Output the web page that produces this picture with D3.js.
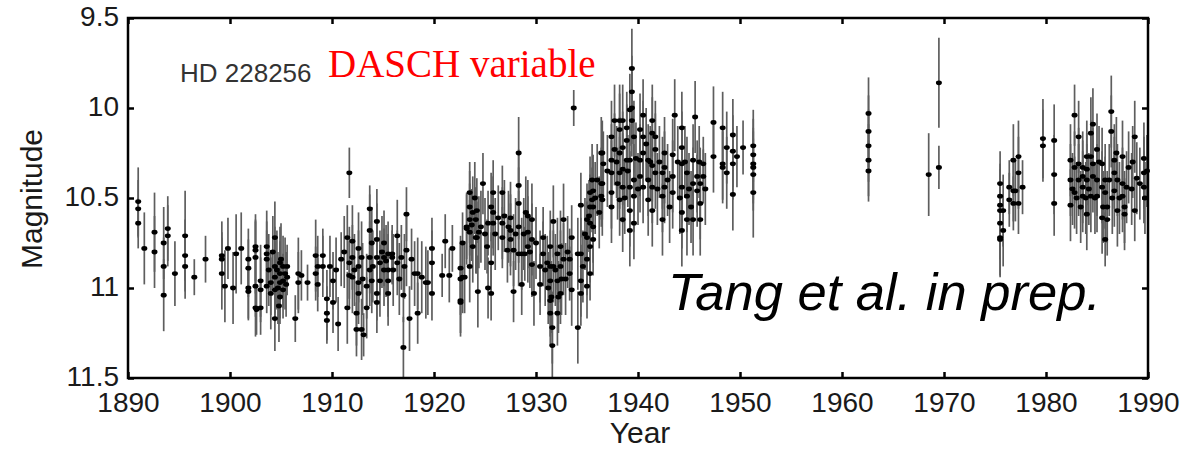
<!DOCTYPE html>
<html><head><meta charset="utf-8">
<script src="https://cdn.jsdelivr.net/npm/d3@7"></script>
<style>html,body{margin:0;padding:0;background:#fff;}svg{display:block;}</style>
</head><body>
<svg id="chart" width="1192" height="455"></svg>
<script>
// [year, magnitude, half error]
const obs1890s = [[1891.0,10.52,0.19],[1891.0,10.56,0.16],[1891.0,10.64,0.14],[1891.6,10.78,0.2],
[1892.6,10.69,0.22],[1892.6,10.80,0.2],[1893.5,10.75,0.2],[1893.5,10.88,0.16],[1893.5,11.04,0.2],[1893.9,10.67,0.18],[1893.9,10.71,0.17],
[1894.6,10.92,0.18],[1895.6,10.71,0.25],[1895.6,10.82,0.2],[1895.6,10.88,0.18],[1896.5,10.94,0.1],[1897.6,10.84,0.13],
[1899.2,10.82,0.19],[1899.2,10.84,0.15],[1899.2,10.92,0.2],[1899.5,10.99,0.2],[1899.8,10.78,0.17]];
const obs1900s = [[1900.3,11.0,0.2],[1900.6,10.81,0.22],[1901.1,10.78,0.2],
[1901.8,10.84,0.17],[1901.8,10.89,0.16],[1901.8,11.0,0.18],[1901.8,11.02,0.15],
[1902.5,10.77,0.18],[1902.5,10.79,0.17],[1902.5,10.83,0.2],[1902.5,10.99,0.17],[1902.5,11.11,0.16],[1902.6,11.12,0.14],
[1903.0,10.96,0.2],[1903.0,11.01,0.18],[1903.0,11.11,0.15],
[1903.6,10.77,0.2],[1903.6,10.81,0.18],[1903.6,10.84,0.16],[1903.6,10.99,0.15],[1903.8,10.9,0.2],
[1904.0,10.97,0.18],[1904.0,11.03,0.2],[1904.2,10.8,0.2],
[1904.4,10.72,0.2],[1904.4,10.88,0.22],[1904.4,10.94,0.2],[1904.4,11.01,0.18],[1904.4,11.17,0.18],
[1904.6,10.9,0.22],[1904.7,11.0,0.2],[1904.8,11.1,0.2],
[1904.9,10.86,0.2],[1904.9,10.92,0.18],[1904.9,10.97,0.2],[1904.9,11.05,0.15],[1905.0,10.84,0.2],
[1905.2,10.88,0.17],[1905.2,10.96,0.15],[1905.2,11.01,0.16],[1905.4,10.92,0.2],[1905.5,10.98,0.18],[1905.6,10.88,0.12],[1905.6,10.94,0.1],
[1906.4,11.17,0.13],[1906.7,10.92,0.2],[1906.7,10.97,0.17],[1907.0,10.93,0.14],[1907.6,10.97,0.1],
[1908.4,10.82,0.2],[1908.4,10.92,0.15],[1908.6,10.88,0.17],[1908.6,10.98,0.15],
[1909.1,10.82,0.15],[1909.1,10.88,0.17],[1909.5,11.06,0.16],[1909.5,11.14,0.15],[1909.5,11.18,0.13],[1909.8,10.88,0.17]];
const obs1910s = [[1910.1,10.96,0.16],[1910.1,11.08,0.17],[1910.4,10.9,0.18],[1910.6,11.2,0.15],[1910.9,10.84,0.15],
[1911.2,10.8,0.2],[1911.5,10.72,0.18],[1911.5,11.11,0.2],[1911.7,10.36,0.14],[1911.7,10.86,0.2],[1911.7,10.93,0.19],
[1912.0,10.74,0.2],[1912.0,10.83,0.18],[1912.0,10.94,0.2],[1912.2,10.9,0.2],[1912.4,11.14,0.18],[1912.4,11.23,0.15],
[1912.6,10.78,0.2],[1912.6,10.88,0.2],[1912.6,10.97,0.18],[1912.6,11.03,0.17],[1912.9,10.83,0.2],[1912.9,11.23,0.17],
[1913.0,10.95,0.2],[1913.1,11.26,0.12],[1913.4,10.99,0.18],[1913.4,11.11,0.17],
[1913.7,10.56,0.13],[1913.7,10.68,0.2],[1913.7,10.83,0.2],[1913.7,10.9,0.2],[1913.9,10.75,0.2],[1913.9,10.96,0.18],[1914.0,10.88,0.2],
[1914.4,10.63,0.18],[1914.4,10.73,0.2],[1914.4,10.83,0.2],[1914.4,11.03,0.15],[1914.4,11.08,0.17],
[1914.7,10.86,0.18],[1914.7,10.96,0.2],[1914.9,10.8,0.2],[1915.1,10.75,0.18],[1915.1,10.83,0.16],[1915.1,10.9,0.2],[1915.3,10.85,0.2],
[1915.5,10.81,0.18],[1915.5,10.9,0.2],[1915.5,10.96,0.2],[1915.5,11.03,0.18],[1915.9,10.81,0.16],[1915.9,10.83,0.15],[1916.0,10.9,0.2],
[1916.4,10.71,0.2],[1916.4,10.86,0.18],[1916.6,10.95,0.2],[1916.8,10.83,0.18],[1917.0,11.04,0.15],[1917.0,11.33,0.17],[1917.1,10.88,0.18],
[1917.3,10.59,0.15],[1917.3,10.79,0.2],[1917.6,11.17,0.18],[1917.8,10.84,0.17],[1918.1,10.92,0.18],
[1918.4,10.92,0.2],[1918.4,11.14,0.17],[1918.8,10.94,0.2],[1919.2,10.97,0.2],[1919.4,10.97,0.18],
[1919.8,10.78,0.17],[1919.8,10.86,0.18],[1919.8,11.03,0.15]];
const obs1920s = [[1920.8,10.93,0.12],[1921.1,10.74,0.15],[1921.5,10.93,0.15],[1921.8,10.78,0.13],
[1922.6,10.89,0.18],[1922.6,10.95,0.2],[1922.6,11.07,0.2],[1922.6,11.08,0.17],[1922.8,10.75,0.17],[1922.8,10.94,0.2],
[1923.0,10.94,0.2],[1923.2,10.66,0.18],[1923.2,10.67,0.2],
[1923.5,10.47,0.17],[1923.5,10.55,0.2],[1923.5,10.62,0.2],[1923.5,10.69,0.18],[1923.5,10.88,0.2],[1923.7,10.65,0.2],
[1923.8,10.58,0.2],[1923.8,10.77,0.2],[1924.0,10.5,0.2],[1924.1,10.62,0.18],[1924.1,10.72,0.2],[1924.2,10.57,0.18],[1924.2,10.72,0.2],
[1924.3,11.02,0.2],[1924.4,10.69,0.2],[1924.6,10.66,0.2],[1924.8,10.42,0.17],[1925.0,10.7,0.2],[1925.2,10.77,0.15],[1925.3,10.64,0.18],[1925.3,11.0,0.17],
[1925.6,10.55,0.19],[1925.6,10.86,0.17],[1925.6,11.03,0.15],[1925.8,10.47,0.18],[1925.8,10.58,0.2],[1925.8,10.64,0.18],
[1926.0,10.7,0.2],[1926.3,10.61,0.18],[1926.7,10.47,0.15],[1926.7,10.64,0.2],[1926.7,10.72,0.17],[1926.9,10.6,0.2],[1927.2,10.79,0.18],
[1927.3,10.66,0.2],[1927.5,10.61,0.2],[1927.5,10.68,0.2],[1927.5,10.73,0.2],[1927.8,11.02,0.17],[1927.8,10.79,0.2],[1928.0,10.7,0.2],
[1928.3,10.25,0.2],[1928.3,10.43,0.2],[1928.3,10.53,0.2],[1928.3,10.66,0.2],[1928.3,10.81,0.18],
[1928.6,10.81,0.2],[1928.6,10.98,0.17],[1928.8,10.7,0.2],[1928.9,10.81,0.15],[1929.0,10.58,0.2],
[1929.2,10.6,0.2],[1929.2,10.69,0.2],[1929.2,10.77,0.2],[1929.4,10.8,0.2],[1929.6,10.62,0.2],[1929.6,10.73,0.2],[1929.6,10.87,0.18],[1929.8,11.03,0.18]];
const obs1930s = [[1930.0,10.75,0.2],[1930.4,10.98,0.17],[1930.4,10.88,0.2],[1930.7,10.72,0.17],[1930.7,10.81,0.18],[1930.9,10.9,0.2],[1931.1,10.86,0.15],
[1931.2,11.0,0.2],[1931.4,10.77,0.2],[1931.4,10.88,0.2],[1931.4,10.96,0.2],[1931.4,11.07,0.2],[1931.4,11.14,0.18],[1931.5,11.05,0.2],
[1931.6,11.22,0.2],[1931.6,11.32,0.18],[1931.7,10.63,0.2],[1931.7,10.88,0.2],[1931.9,10.9,0.2],
[1932.1,10.81,0.2],[1932.1,10.96,0.2],[1932.1,11.14,0.18],[1932.2,11.05,0.2],[1932.4,10.77,0.2],[1932.4,10.88,0.2],[1932.4,11.03,0.17],[1932.5,10.95,0.2],
[1932.7,10.62,0.2],[1932.7,10.84,0.2],[1932.9,10.95,0.2],[1933.1,10.8,0.2],[1933.3,10.84,0.17],[1933.3,10.92,0.15],[1933.5,10.72,0.18],[1933.5,11.01,0.2],
[1933.7,10.0,0.1],[1934.1,11.22,0.2],[1934.1,10.81,0.2],
[1934.4,10.54,0.18],[1934.4,10.81,0.2],[1934.4,10.96,0.2],[1934.4,11.03,0.18],[1934.6,10.88,0.2],[1934.8,10.7,0.2],
[1935.0,10.62,0.2],[1935.0,10.72,0.2],[1935.0,10.84,0.2],[1935.0,10.99,0.18],[1935.2,10.6,0.2],
[1935.3,10.47,0.2],[1935.3,10.55,0.18],[1935.3,10.64,0.2],[1935.3,10.77,0.2],[1935.3,10.92,0.15],
[1935.5,10.4,0.2],[1935.5,10.51,0.18],[1935.6,10.46,0.2],[1935.6,10.55,0.18],[1935.6,10.66,0.2],[1935.6,10.73,0.2],[1935.8,10.5,0.2],
[1936.0,10.4,0.2],[1936.2,10.58,0.2],
[1936.4,10.25,0.2],[1936.4,10.42,0.2],[1936.4,10.49,0.17],[1936.5,10.25,0.18],[1936.5,10.42,0.2],[1936.5,10.51,0.2],[1936.6,10.31,0.18],
[1937.0,10.35,0.2],[1937.4,10.16,0.2],[1937.4,10.29,0.2],[1937.4,10.36,0.18],[1937.4,10.47,0.2],[1937.4,10.55,0.2],[1937.7,10.07,0.2],[1937.7,10.23,0.2],
[1937.9,10.3,0.2],[1938.0,10.42,0.2],
[1938.2,10.07,0.2],[1938.2,10.12,0.2],[1938.2,10.25,0.2],[1938.2,10.36,0.2],[1938.2,10.51,0.2],
[1938.5,10.07,0.2],[1938.5,10.22,0.2],[1938.5,10.34,0.2],[1938.5,10.44,0.2],[1938.5,10.62,0.18],[1938.7,10.5,0.2],
[1938.9,10.11,0.2],[1938.9,10.18,0.2],[1938.9,10.29,0.2],[1939.0,10.35,0.2],
[1939.2,10.01,0.2],[1939.2,10.29,0.2],[1939.2,10.44,0.2],[1939.2,10.57,0.2],[1939.2,10.68,0.2],
[1939.4,9.78,0.22],[1939.4,9.91,0.2],[1939.4,10.0,0.2],[1939.4,10.07,0.2],
[1939.6,10.16,0.2],[1939.6,10.4,0.2],[1939.6,10.49,0.2],[1939.6,10.64,0.2],[1939.8,10.28,0.2]];
const obs1940s = [[1940.0,10.45,0.2],[1940.2,10.12,0.2],[1940.2,10.29,0.2],[1940.2,10.38,0.2],
[1940.5,10.04,0.2],[1940.5,10.16,0.2],[1940.5,10.25,0.2],[1940.5,10.44,0.2],[1940.8,10.2,0.2],[1941.0,10.29,0.2],[1941.0,10.4,0.2],[1941.0,10.51,0.2],
[1941.2,10.3,0.2],[1941.4,10.07,0.2],[1941.4,10.14,0.2],[1941.4,10.32,0.2],[1941.4,10.44,0.2],[1941.4,10.57,0.2],
[1941.7,10.16,0.2],[1941.7,10.23,0.2],[1941.7,10.36,0.2],[1941.9,10.45,0.2],[1942.1,10.3,0.2],[1942.4,10.36,0.2],[1942.4,10.49,0.2],[1942.4,10.62,0.2],
[1942.6,10.25,0.2],[1942.6,10.33,0.2],[1942.6,10.44,0.2],[1942.9,10.4,0.2],[1943.1,10.55,0.2],[1943.4,10.26,0.2],[1943.4,10.38,0.2],[1943.4,10.47,0.2],[1943.6,10.04,0.2],
[1943.9,10.3,0.2],[1944.1,10.5,0.2],
[1944.3,10.11,0.2],[1944.3,10.22,0.2],[1944.3,10.31,0.2],[1944.3,10.44,0.2],[1944.3,10.58,0.2],[1944.3,10.68,0.2],[1944.6,10.3,0.2],
[1944.8,10.36,0.2],[1944.8,10.49,0.2],[1944.8,10.62,0.2],[1945.0,10.45,0.2],[1945.2,10.55,0.2],[1945.4,10.29,0.2],[1945.4,10.42,0.2],[1945.4,10.62,0.2],
[1945.6,10.05,0.2],[1945.8,10.38,0.2],[1945.8,10.46,0.2],[1946.0,10.3,0.2],[1946.1,10.42,0.2],[1946.1,10.53,0.2],[1946.1,10.62,0.2],
[1946.4,10.31,0.15],[1946.4,10.38,0.15],[1946.6,10.45,0.2],[1947.4,10.08,0.2],[1947.4,10.27,0.2],
[1948.3,10.11,0.2],[1948.3,10.31,0.2],[1948.3,10.33,0.2],[1948.7,10.22,0.2],[1948.7,10.36,0.2],
[1949.3,10.15,0.2],[1949.3,10.24,0.2],[1949.3,10.31,0.2],[1949.3,10.48,0.2],[1949.7,10.27,0.17],[1950.3,10.22,0.15],
[1951.3,10.21,0.2],[1951.3,10.26,0.2],[1951.3,10.31,0.2],[1951.3,10.33,0.2],[1951.3,10.37,0.2],[1951.3,10.47,0.25]];
const obs1960s = [[1962.6,10.03,0.2],[1962.6,10.13,0.2],[1962.6,10.21,0.2],[1962.6,10.29,0.2],[1962.6,10.35,0.17],
[1968.5,10.37,0.23],[1969.5,9.86,0.25],[1969.5,10.33,0.12]];
const obs1970s = [[1975.5,10.42,0.18],[1975.5,10.49,0.18],[1975.5,10.54,0.2],[1975.5,10.57,0.2],[1975.5,10.64,0.2],[1975.5,10.72,0.22],[1975.5,10.73,0.2],
[1975.8,10.57,0.2],[1975.8,10.68,0.2],[1976.4,10.44,0.15],[1976.4,10.51,0.15],
[1976.8,10.29,0.2],[1976.8,10.46,0.17],[1976.8,10.53,0.15],[1977.0,10.46,0.17],
[1977.3,10.27,0.2],[1977.3,10.36,0.2],[1977.3,10.53,0.17],[1977.7,10.44,0.15],[1979.7,10.17,0.22],[1979.7,10.21,0.2]];
const obs1980s = [[1980.8,10.18,0.2],[1980.8,10.37,0.22],[1980.8,10.53,0.18],
[1982.4,10.4,0.2],[1982.4,10.54,0.2],[1982.4,10.29,0.2],[1982.6,10.45,0.2],[1982.8,10.04,0.17],[1982.8,10.33,0.2],[1982.8,10.47,0.2],[1983.0,10.5,0.2],
[1983.2,10.16,0.2],[1983.2,10.31,0.2],[1983.2,10.4,0.2],[1983.4,10.55,0.2],[1983.6,10.33,0.2],[1983.6,10.38,0.2],[1983.6,10.44,0.2],[1983.6,10.49,0.2],[1983.9,10.5,0.2],
[1984.0,10.27,0.2],[1984.0,10.34,0.2],[1984.0,10.4,0.2],[1984.0,10.59,0.2],[1984.2,10.45,0.2],[1984.4,10.14,0.2],[1984.4,10.27,0.2],[1984.4,10.49,0.2],
[1984.6,10.09,0.2],[1984.6,10.31,0.2],[1984.6,10.38,0.2],[1984.8,10.5,0.2],[1985.0,10.23,0.2],[1985.0,10.4,0.2],[1985.0,10.49,0.2],[1985.2,10.3,0.2],
[1985.5,10.31,0.2],[1985.5,10.44,0.2],[1985.5,10.61,0.2],[1985.6,10.55,0.2],[1985.8,10.73,0.15],[1985.8,10.4,0.2],[1985.8,10.47,0.2],
[1986.0,10.55,0.2],[1986.0,10.62,0.2],[1986.2,10.4,0.2],[1986.4,10.02,0.2],[1986.4,10.13,0.2],[1986.5,10.5,0.2],[1986.7,10.29,0.2],[1986.7,10.36,0.2],[1986.7,10.46,0.2],
[1986.9,10.25,0.2],[1987.0,10.4,0.2],[1987.0,10.57,0.2],[1987.2,10.5,0.2],[1987.5,10.27,0.2],[1987.5,10.42,0.2],[1987.5,10.49,0.2],[1987.7,10.59,0.2],[1987.7,10.55,0.2],
[1987.9,10.44,0.2],[1988.1,10.33,0.2],[1988.4,10.45,0.2],[1988.5,10.3,0.2],[1988.7,10.57,0.17],[1988.7,10.16,0.2],[1988.9,10.39,0.2],[1989.2,10.42,0.2],
[1989.6,10.28,0.2],[1989.6,10.36,0.2],[1989.6,10.44,0.2],[1989.7,10.5,0.2],[1989.9,10.35,0.2]];

const xTicks = [1890,1900,1910,1920,1930,1940,1950,1960,1970,1980,1990];
const yTicks = [9.5,10,10.5,11,11.5];
const yTickLabels = ["9.5","10","10.5","11","11.5"];

const allObs = [].concat(obs1890s, obs1900s, obs1910s, obs1920s, obs1930s, obs1940s, obs1960s, obs1970s, obs1980s);

const svg = d3.select("#chart");
const L = 128, R = 1148, T = 18, B = 378;
const x = d3.scaleLinear().domain([1890,1990]).range([L,R]);
const y = d3.scaleLinear().domain([9.5,11.5]).range([T,B]);

const font = "'Liberation Sans', Arial, sans-serif";

// error bars
svg.append("g").selectAll("line").data(allObs).join("line")
  .attr("x1", d => x(d[0])).attr("x2", d => x(d[0]))
  .attr("y1", d => y(d[1]-d[2])).attr("y2", d => y(d[1]+d[2]))
  .attr("stroke", "#5e5e5e").attr("stroke-width", 1.7);
// points
svg.append("g").selectAll("ellipse").data(allObs).join("ellipse")
  .attr("cx", d => x(d[0])).attr("cy", d => y(d[1]))
  .attr("rx", 3).attr("ry", 2.4).attr("fill", "#000");

// axes
function styleAxis(g){
  g.select(".domain").remove();
  g.selectAll(".tick line").attr("stroke","#000").attr("stroke-width",2.5);
  g.selectAll(".tick text").attr("font-family",font).attr("font-size",28).attr("fill","#1a1a1a");
}
svg.append("g").attr("transform",`translate(0,${B})`)
  .call(d3.axisBottom(x).tickValues(xTicks).tickFormat(d3.format("d")).tickSize(-6).tickPadding(14))
  .call(styleAxis);
svg.append("g").attr("transform",`translate(0,${T})`)
  .call(d3.axisTop(x).tickValues(xTicks).tickFormat("").tickSize(-6))
  .call(styleAxis);
svg.append("g").attr("transform",`translate(${L},0)`)
  .call(d3.axisLeft(y).tickValues(yTicks).tickFormat((d,i)=>yTickLabels[i]).tickSize(-6).tickPadding(9))
  .call(styleAxis)
  .call(g => g.selectAll(".tick text").attr("dy","0.28em"));
svg.append("g").attr("transform",`translate(${R},0)`)
  .call(d3.axisRight(y).tickValues(yTicks).tickFormat("").tickSize(-6))
  .call(styleAxis);

// frame
svg.append("rect").attr("x",L).attr("y",T).attr("width",R-L).attr("height",B-T)
  .attr("fill","none").attr("stroke","#000").attr("stroke-width",2.5);

// axis titles
svg.append("text").attr("x",640).attr("y",443).attr("text-anchor","middle")
  .attr("font-family",font).attr("font-size",30).attr("fill","#1a1a1a").text("Year");
svg.append("text").attr("transform","translate(42,199) rotate(-90)").attr("text-anchor","middle")
  .attr("font-family",font).attr("font-size",30).attr("fill","#1a1a1a").text("Magnitude");

// annotations
svg.append("text").attr("x",180).attr("y",82).attr("font-family",font).attr("font-size",26)
  .attr("fill","#333").text("HD 228256");
svg.append("text").attr("x",328).attr("y",77).attr("font-family","'Liberation Serif','Times New Roman',serif")
  .attr("font-size",39).attr("fill","#ff0000").text("DASCH variable");
svg.append("text").attr("x",668).attr("y",310).attr("font-family",font).attr("font-style","italic")
  .attr("font-size",52.5).attr("fill","#000").text("Tang et al. in prep.");
</script>
</body></html>
